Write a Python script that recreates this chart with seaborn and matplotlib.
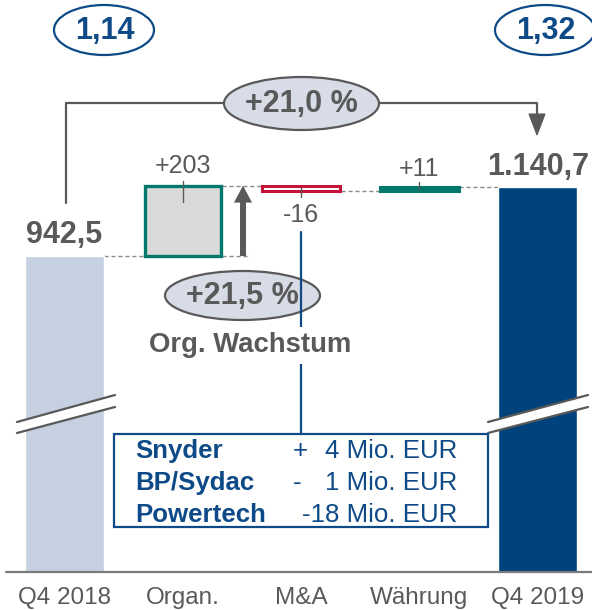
import matplotlib
matplotlib.use("Agg")
import matplotlib.pyplot as plt
import seaborn as sns
import pandas as pd
from matplotlib.patches import Ellipse, Rectangle, Polygon
from matplotlib.lines import Line2D
from matplotlib.transforms import Affine2D

# ---------------- data ----------------
categories = ["Q4 2018", "Organ.", "M&A", "Währung", "Q4 2019"]
start_value = 942.5
end_value = 1140.7
deltas = [203, -16, 11]            # Organ., M&A, Währung
delta_labels = ["+203", "-16", "+11"]
total_labels = ["942,5", "1.140,7"]
ratio_labels = ["1,14", "1,32"]
growth_total = "+21,0 %"
growth_organic = "+21,5 %"
organic_caption = "Org. Wachstum"
ma_names = ["Snyder", "BP/Sydac", "Powertech"]
ma_signs = ["+", "-", ""]
ma_values = ["4 Mio. EUR", "1 Mio. EUR", "-18 Mio. EUR"]

# ---------------- style ----------------
W, H = 592, 610
sns.set_theme(style="white")
plt.rcParams['font.family'] = ['Liberation Sans', 'DejaVu Sans']

GRAY = "#595959"
LIGHT = "#c5d0e1"
DARK = "#00427c"
TEAL = "#00786b"
RED = "#c41439"
BLUE_TXT = "#0e4a87"
ELL_FILL = "#d8dce6"
DASH = "#8a8a8a"

fig = plt.figure(figsize=(W / 100, H / 100), dpi=100)
ax = fig.add_axes([0, 38 / H, 1, 572 / H])
# pixel transform (top-left origin) for decorations
T = Affine2D().scale(1 / W, -1 / H).translate(0, 1) + fig.transFigure

# totals via seaborn
df_tot = pd.DataFrame({"cat": [categories[0], categories[-1]],
                       "val": [start_value, end_value]})
sns.barplot(data=df_tot, x="cat", y="val", hue="cat", order=categories,
            palette={categories[0]: LIGHT, categories[-1]: DARK},
            width=0.668, saturation=1, legend=False, ax=ax, zorder=2)

ax.set_xlim(-0.545, 4.459)
ax.set_ylim(30.8, 1681.1)
for s in ax.spines.values():
    s.set_visible(False)
ax.set_yticks([])
ax.set_xlabel("")
ax.set_ylabel("")
ax.tick_params(axis="x", length=0, pad=11, labelsize=17.5, labelcolor=GRAY)
ax.plot([6 / W, 1], [0, 0], transform=ax.transAxes, color="#7a7a7a",
        lw=1.6, clip_on=False, zorder=5)

# delta bars
running = start_value
tops, bottoms = [], []
styles = [
    dict(width=0.645, color="#d9d9d9", edgecolor=TEAL, linewidth=2.4),
    dict(width=0.655, color="white", edgecolor=RED, linewidth=2.2),
    dict(width=0.665, color=TEAL, edgecolor=TEAL, linewidth=2.2),
]
for i, d in enumerate(deltas):
    b = min(running, running + d)
    ax.bar(i + 1, abs(d), bottom=b, zorder=3, **styles[i])
    tops.append(b + abs(d))
    bottoms.append(b)
    running += d

# dashed connectors
dkw = dict(color=DASH, lw=1.0, ls=(0, (3, 2)), zorder=1)
ax.plot([0.334, 1.568], [start_value, start_value], **dkw)
ax.plot([1.33, 1.66], [tops[0], tops[0]], **dkw)
ax.plot([2.335, 2.66], [bottoms[1], bottoms[1]], **dkw)
ax.plot([3.335, 3.665], [tops[2], tops[2]], **dkw)

# small ticks in delta bars
ax.plot([1, 1], [tops[0] + 14, tops[0] - 47], color=GRAY, lw=1, zorder=4)
ax.plot([2, 2], [bottoms[1] + 10, bottoms[1] - 18], color=GRAY, lw=1, zorder=4)
ax.plot([3, 3], [tops[2] + 15, tops[2] - 5], color=GRAY, lw=1, zorder=4)

# organic growth arrow
ax.annotate("", xy=(1.509, tops[0]), xytext=(1.509, start_value),
            arrowprops=dict(arrowstyle="simple,head_length=1.22,head_width=1.3,tail_width=0.43",
                            mutation_scale=10, color=GRAY, lw=0,
                            shrinkA=0, shrinkB=0), zorder=4)

# value labels
ax.annotate(total_labels[0], xy=(0, start_value), xytext=(0, 9.4),
            textcoords="offset points", ha="center", va="baseline",
            fontsize=22, fontweight="bold", color=GRAY)
ax.annotate(total_labels[1], xy=(4, end_value), xytext=(0, 8.9),
            textcoords="offset points", ha="center", va="baseline",
            fontsize=22, fontweight="bold", color=GRAY)
ax.annotate(delta_labels[0], xy=(1, tops[0]), xytext=(0, 9.1),
            textcoords="offset points", ha="center", va="baseline",
            fontsize=18, color=GRAY)
ax.annotate(delta_labels[1], xy=(2, bottoms[1]), xytext=(0, -22.3),
            textcoords="offset points", ha="center", va="baseline",
            fontsize=18, color=GRAY)
ax.annotate(delta_labels[2], xy=(3, tops[2]), xytext=(0, 8.2),
            textcoords="offset points", ha="center", va="baseline",
            fontsize=18, color=GRAY)

# ---------------- decorations (pixel coords) ----------------
def add(artist):
    fig.add_artist(artist)

# break marks
for x0, x1 in [(17, 115), (488, 588)]:
    band = Polygon([(x0, 422), (x1, 395), (x1, 407), (x0, 433)], closed=True,
                   transform=T, facecolor="white", edgecolor="none", zorder=3)
    add(band)
    add(Line2D([x0, x1], [422, 395], transform=T, color=GRAY, lw=1.6, zorder=3.1))
    add(Line2D([x0, x1], [433, 407], transform=T, color=GRAY, lw=1.6, zorder=3.1))

# ratio ellipses
for (cx, cy), lab in zip([(104, 30), (545, 30)], ratio_labels):
    add(Ellipse((cx, cy), 100, 50, transform=T, facecolor="white",
                edgecolor=BLUE_TXT, lw=1.6, zorder=2))
    fig.text(cx + 1, cy + 1, lab, transform=T, ha="center", va="center",
             fontsize=22, fontweight="bold", color=BLUE_TXT, zorder=3)

# total growth bracket
add(Line2D([66, 66, 224], [203, 103, 103], transform=T, color=GRAY, lw=1.6, zorder=2))
add(Line2D([379, 537, 537], [103, 103, 114], transform=T, color=GRAY, lw=1.6, zorder=2))
add(Polygon([(529, 114), (545, 114), (537, 135)], closed=True, transform=T,
            facecolor=GRAY, edgecolor=GRAY, lw=0.8, zorder=2))
add(Ellipse((301.5, 103.5), 155, 53, transform=T, facecolor=ELL_FILL,
            edgecolor=GRAY, lw=1.6, zorder=2))
fig.text(301.5, 104, growth_total, transform=T, ha="center", va="center",
         fontsize=22, fontweight="bold", color=GRAY, zorder=3)

# organic growth ellipse, M&A connector line (drawn over ellipse), caption
add(Ellipse((242.5, 295.5), 155, 49, transform=T, facecolor=ELL_FILL,
            edgecolor=GRAY, lw=1.6, zorder=2))
fig.text(242.5, 296, growth_organic, transform=T, ha="center", va="center",
         fontsize=22, fontweight="bold", color=GRAY, zorder=3)
add(Line2D([301, 301], [232, 434], transform=T, color=BLUE_TXT, lw=1.6, zorder=3.5))
fig.text(250.5, 352, organic_caption, transform=T, ha="center", va="baseline",
         fontsize=19.8, fontweight="bold", color=GRAY, zorder=4,
         bbox=dict(facecolor="white", edgecolor="none", pad=4))

add(Rectangle((114, 434), 374, 93, transform=T, facecolor="white",
              edgecolor=BLUE_TXT, lw=1.6, zorder=4))
for k, (nm, sg, vl) in enumerate(zip(ma_names, ma_signs, ma_values)):
    yb = 458 + 32 * k
    fig.text(135, yb, nm, transform=T, ha="left", va="baseline",
             fontsize=18.6, fontweight="bold", color=BLUE_TXT, zorder=5)
    if sg:
        fig.text(293, yb, sg, transform=T, ha="left", va="baseline",
                 fontsize=18.6, color=BLUE_TXT, zorder=5)
    fig.text(457, yb, vl, transform=T, ha="right", va="baseline",
             fontsize=18.6, color=BLUE_TXT, zorder=5)

fig.savefig("out.png", dpi=100)
